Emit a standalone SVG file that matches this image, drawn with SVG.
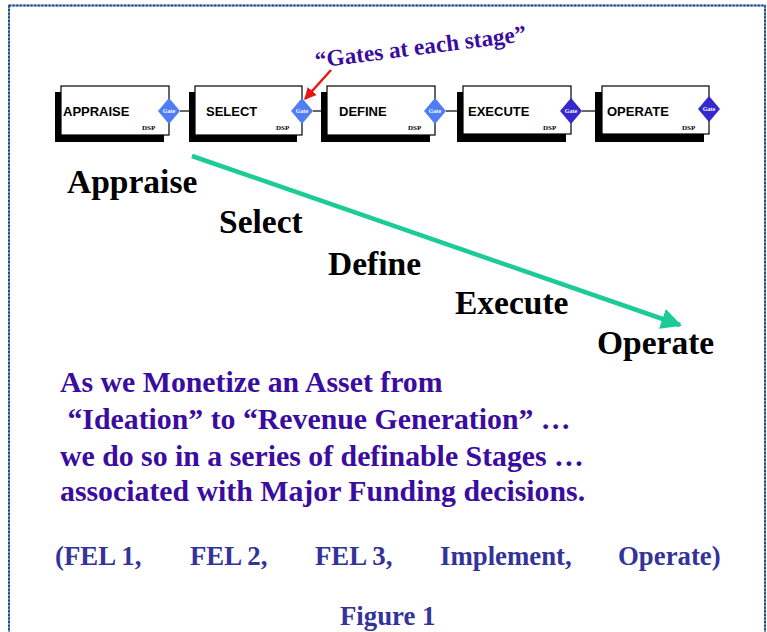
<svg xmlns="http://www.w3.org/2000/svg" width="767" height="632" viewBox="0 0 767 632">
<defs>
<style>
.shadow{fill:#000}
.box{fill:#fff;stroke:#000;stroke-width:1.2}
.lbl{font-family:"Liberation Sans",Arial,sans-serif;font-weight:bold;font-size:13px;fill:#000}
.dsp{font-family:"Liberation Serif","Times New Roman",serif;font-weight:bold;font-size:7px;fill:#000}
.gate{fill:#4f7df5}
.gate2{fill:#3528cc}
.gt{font-family:"Liberation Serif","Times New Roman",serif;font-weight:bold;font-size:6px;fill:#fff;text-anchor:middle}
.stage{font-family:"Liberation Serif","Times New Roman",serif;font-weight:bold;font-size:33.5px;fill:#000}
.body{font-family:"Liberation Serif","Times New Roman",serif;font-weight:bold;font-size:29.8px;fill:#3a0ca0}
.fel{font-family:"Liberation Serif","Times New Roman",serif;font-weight:bold;font-size:26.8px;fill:#333399}
.link{stroke:#333;stroke-width:1.5}
</style>
<marker id="ah" viewBox="0 0 10 10" refX="9" refY="5" markerWidth="4.6" markerHeight="4.6" orient="auto" markerUnits="strokeWidth">
<path d="M0,0 L10,5 L0,10 z" fill="#1ccb96"/>
</marker>
<marker id="ar" viewBox="0 0 10 10" refX="9" refY="5" markerWidth="5" markerHeight="5" orient="auto" markerUnits="strokeWidth">
<path d="M0,0 L10,5 L0,10 z" fill="#ee1111"/>
</marker>
</defs>
<rect x="0" y="0" width="767" height="632" fill="#fff"/>
<rect x="9" y="5.5" width="756" height="640" fill="none" stroke="#7f9cc6" stroke-width="2"/>
<rect x="9" y="5.5" width="756" height="640" fill="none" stroke="#1f4a85" stroke-width="2" stroke-dasharray="2 1.6"/>

<g id="connectors">
<line class="link" x1="180" y1="111" x2="195" y2="111"/>
<line class="link" x1="313" y1="111" x2="327" y2="111"/>
<line class="link" x1="446" y1="111" x2="463" y2="111"/>
<line class="link" x1="582" y1="111" x2="602" y2="111"/>
<line x1="192" y1="156" x2="680" y2="325" stroke="#1ccb96" stroke-width="4.5" marker-end="url(#ah)"/>
<line x1="331" y1="70" x2="305" y2="99" stroke="#ee1111" stroke-width="2.4" marker-end="url(#ar)"/>
</g>

<g id="appraise">
<rect class="shadow" x="55" y="92" width="109" height="50"/>
<rect class="box" x="61" y="86" width="108" height="49"/>
<text class="lbl" x="63" y="116">APPRAISE</text>
<text class="dsp" x="142" y="130">DSP</text>
<path class="gate" d="M169,98 L180,111 L169,124 L158,111 z"/>
<text class="gt" x="169" y="113">Gate</text>
</g>

<g id="select">
<rect class="shadow" x="189" y="92" width="108" height="50"/>
<rect class="box" x="195" y="86" width="107" height="49"/>
<text class="lbl" x="206" y="116">SELECT</text>
<text class="dsp" x="276" y="130">DSP</text>
<path class="gate" d="M302,98 L313,111 L302,124 L291,111 z"/>
<text class="gt" x="302" y="113">Gate</text>
</g>

<g id="define">
<rect class="shadow" x="321" y="92" width="109" height="50"/>
<rect class="box" x="327" y="86" width="108" height="49"/>
<text class="lbl" x="339" y="116">DEFINE</text>
<text class="dsp" x="408" y="130">DSP</text>
<path class="gate" d="M435,98 L446,111 L435,124 L424,111 z"/>
<text class="gt" x="435" y="113">Gate</text>
</g>

<g id="execute">
<rect class="shadow" x="457" y="92" width="109" height="50"/>
<rect class="box" x="463" y="86" width="108" height="48"/>
<text class="lbl" x="468" y="116">EXECUTE</text>
<text class="dsp" x="543" y="130">DSP</text>
<path class="gate2" d="M571,98 L582,111 L571,124 L560,111 z"/>
<text class="gt" x="571" y="113">Gate</text>
</g>

<g id="operate">
<rect class="shadow" x="595" y="92" width="109" height="50"/>
<rect class="box" x="602" y="86" width="107" height="48"/>
<text class="lbl" x="607" y="116">OPERATE</text>
<text class="dsp" x="682" y="130">DSP</text>
<path class="gate2" d="M709,96 L720,109 L709,122 L698,109 z"/>
<text class="gt" x="709" y="111">Gate</text>
</g>

<g id="gates-note">
<text x="316" y="68" transform="rotate(-7.3 316 68)" font-family="'Liberation Serif','Times New Roman',serif" font-weight="bold" font-size="23.3" fill="#3a0ca0">“Gates at each stage”</text>
</g>

<g id="stage-labels">
<text class="stage" x="67" y="193">Appraise</text>
<text class="stage" x="219" y="233">Select</text>
<text class="stage" x="328" y="275">Define</text>
<text class="stage" x="455" y="314">Execute</text>
<text class="stage" x="597" y="354">Operate</text>
</g>

<g id="description">
<text class="body" x="60" y="392">As we Monetize an Asset from</text>
<text class="body" x="60" y="429" xml:space="preserve"> “Ideation” to “Revenue Generation” …</text>
<text class="body" x="60" y="466">we do so in a series of definable Stages …</text>
<text class="body" x="60" y="501">associated with Major Funding decisions.</text>
</g>

<g id="fel-list">
<text class="fel" x="55" y="565">(FEL 1,</text>
<text class="fel" x="190" y="565">FEL 2,</text>
<text class="fel" x="315" y="565">FEL 3,</text>
<text class="fel" x="440" y="565">Implement,</text>
<text class="fel" x="618" y="565">Operate)</text>
</g>

<g id="caption">
<text class="fel" x="340" y="625">Figure 1</text>
</g>
</svg>
